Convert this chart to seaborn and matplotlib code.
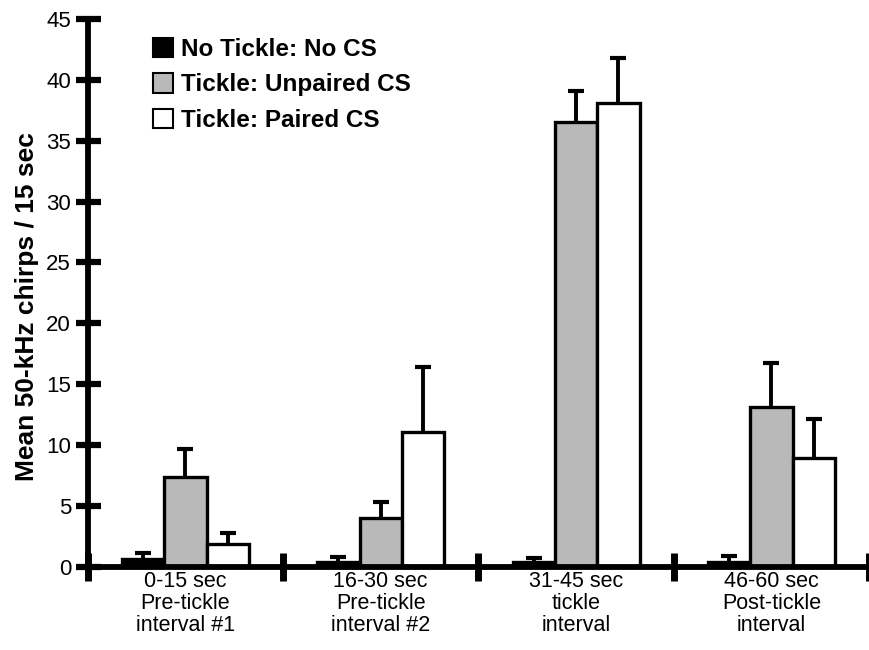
import numpy as np
import pandas as pd
import matplotlib
matplotlib.use("Agg")
import matplotlib.pyplot as plt
import seaborn as sns
from matplotlib.patches import Patch

# values
intervals = ["0-15 sec\nPre-tickle\ninterval #1",
             "16-30 sec\nPre-tickle\ninterval #2",
             "31-45 sec\ntickle\ninterval",
             "46-60 sec\nPost-tickle\ninterval"]
groups = ["No Tickle: No CS", "Tickle: Unpaired CS", "Tickle: Paired CS"]
no_tickle = [0.6, 0.4, 0.4, 0.4]
unpaired = [7.4, 4.0, 36.5, 13.1]
paired = [1.9, 11.1, 38.1, 8.9]
no_tickle_err = [0.5, 0.4, 0.3, 0.5]
unpaired_err = [2.3, 1.3, 2.6, 3.6]
paired_err = [0.9, 5.3, 3.7, 3.2]
colors = ["#000000", "#b9b9b9", "#ffffff"]

df = pd.DataFrame({
    "interval": intervals * 3,
    "group": [g for g in groups for _ in intervals],
    "mean": no_tickle + unpaired + paired,
    "err": no_tickle_err + unpaired_err + paired_err,
})

sns.set_style("ticks")
plt.rcParams["font.family"] = ["Liberation Sans", "DejaVu Sans"]
for k in ["text.color", "axes.labelcolor", "xtick.color", "ytick.color", "axes.edgecolor"]:
    plt.rcParams[k] = "black"

fig = plt.figure(figsize=(8.69, 6.5), dpi=100)
ax = fig.add_axes([0.101, 0.128, 0.899, 0.843])

sns.barplot(data=df, x="interval", y="mean", hue="group", order=intervals,
            hue_order=groups, palette=colors, width=0.65, errorbar=None,
            edgecolor="black", linewidth=2.4, ax=ax, legend=False)

# one-sided error bars on top of each bar (upper cap only)
bars = [p for p in ax.patches if p.get_height() > 0]
for bar, (_, row) in zip(bars, df.iterrows()):
    x = bar.get_x() + bar.get_width() / 2
    eb = ax.errorbar(x, row["mean"], yerr=[[0], [row["err"]]], fmt="none",
                     ecolor="black", elinewidth=2.8, capsize=6, capthick=3, zorder=1)
    eb[1][0].set_visible(False)

ax.set_ylim(0, 45)
ax.set_xlim(-0.5, 3.5)
ax.set_yticks(np.arange(0, 46, 5))
ax.set_ylabel("Mean 50-kHz chirps / 15 sec", fontsize=19, fontweight="bold")
ax.yaxis.set_label_coords(-0.062, 0.475)
ax.set_xlabel("")

ax.set_xticks(np.arange(4))
ax.set_xticklabels(intervals, fontsize=15.5, linespacing=1.05)
ax.tick_params(axis="x", which="major", bottom=False, length=0, pad=3)
ax.set_xticks([-0.5, 0.5, 1.5, 2.5, 3.5], minor=True)
ax.tick_params(axis="x", which="minor", bottom=True, direction="inout", length=20, width=5)
ax.tick_params(axis="y", left=True, direction="inout", length=18, width=4.5,
               labelsize=16, pad=3)

for s in ["top", "right"]:
    ax.spines[s].set_visible(False)
ax.spines["left"].set_linewidth(4.2)
ax.spines["bottom"].set_linewidth(4.2)

handles = [Patch(facecolor=c, edgecolor="black", linewidth=1.5) for c in colors]
ax.legend(handles, groups, loc="upper left", bbox_to_anchor=(0.055, 1.005),
          frameon=False, prop={"size": 17.5, "weight": "bold"},
          handlelength=0.85, handleheight=0.85, handletextpad=0.3, labelspacing=0.5)

fig.savefig("out.png", dpi=100)
